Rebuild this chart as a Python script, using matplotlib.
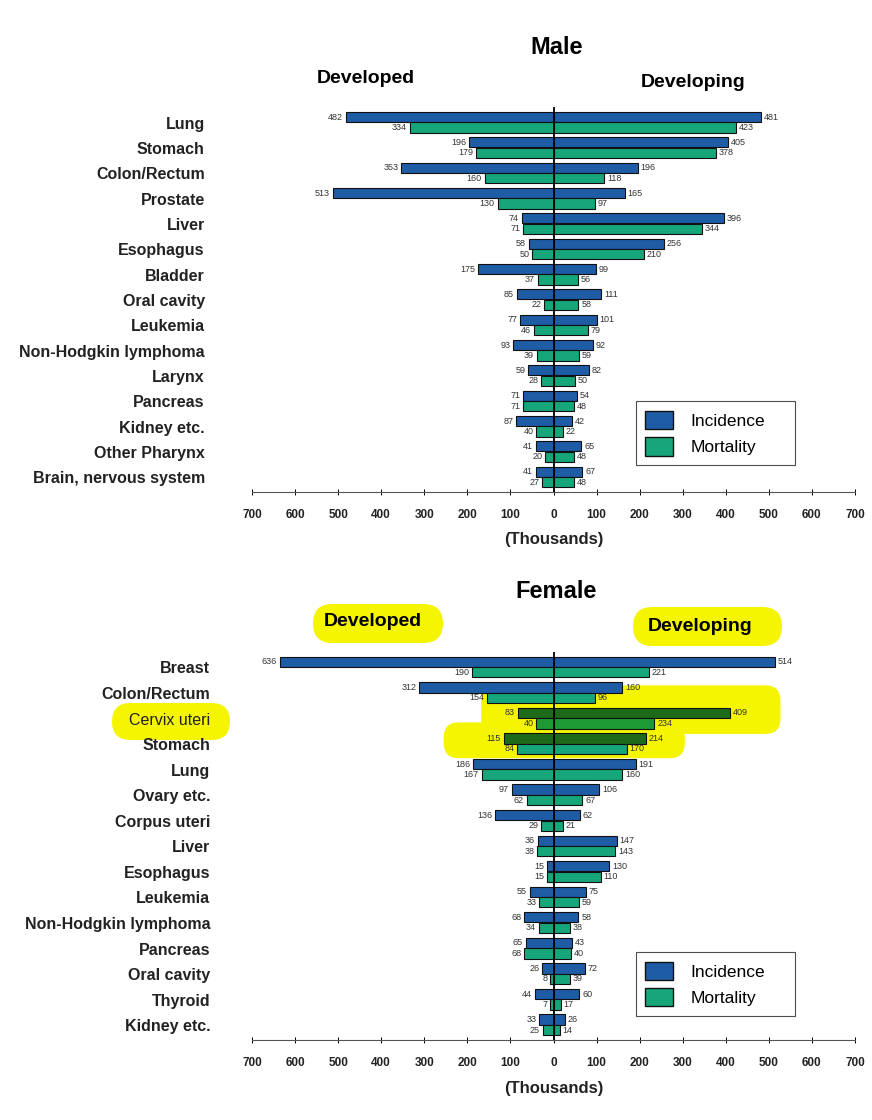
import matplotlib
matplotlib.use("Agg")
import matplotlib.pyplot as plt
from matplotlib.patches import Patch, FancyBboxPatch

plt.rcParams['font.family'] = ['Liberation Sans', 'DejaVu Sans']

# ---------------------------------------------------------------------------
# data (thousands of cases / deaths)
# ---------------------------------------------------------------------------
male_sites = ['Lung', 'Stomach', 'Colon/Rectum', 'Prostate', 'Liver', 'Esophagus',
              'Bladder', 'Oral cavity', 'Leukemia', 'Non-Hodgkin lymphoma', 'Larynx',
              'Pancreas', 'Kidney etc.', 'Other Pharynx', 'Brain, nervous system']
male_dev_inc = [482, 196, 353, 513, 74, 58, 175, 85, 77, 93, 59, 71, 87, 41, 41]
male_dev_mort = [334, 179, 160, 130, 71, 50, 37, 22, 46, 39, 28, 71, 40, 20, 27]
male_ing_inc = [481, 405, 196, 165, 396, 256, 99, 111, 101, 92, 82, 54, 42, 65, 67]
male_ing_mort = [423, 378, 118, 97, 344, 210, 56, 58, 79, 59, 50, 48, 22, 48, 48]

female_sites = ['Breast', 'Colon/Rectum', 'Cervix uteri', 'Stomach', 'Lung', 'Ovary etc.',
                'Corpus uteri', 'Liver', 'Esophagus', 'Leukemia', 'Non-Hodgkin lymphoma',
                'Pancreas', 'Oral cavity', 'Thyroid', 'Kidney etc.']
female_dev_inc = [636, 312, 83, 115, 186, 97, 136, 36, 15, 55, 68, 65, 26, 44, 33]
female_dev_mort = [190, 154, 40, 84, 167, 62, 29, 38, 15, 33, 34, 68, 8, 7, 25]
female_ing_inc = [514, 160, 409, 214, 191, 106, 62, 147, 130, 75, 58, 43, 72, 60, 26]
female_ing_mort = [221, 96, 234, 170, 160, 67, 21, 143, 110, 59, 38, 40, 39, 17, 14]

# sites marked with the yellow highlighter in the female panel
hl_inc = ['Cervix uteri', 'Stomach']
hl_mort = ['Cervix uteri']

tick_vals = list(range(-700, 701, 100))

C_INC = '#1f5ca6'
C_MORT = '#17a57a'
C_INC_HL = '#1d6a18'
C_MORT_HL = '#1e9a35'
YELLOW = '#f5f500'


def draw_panel(ax, sites, dev_inc, dev_mort, ing_inc, ing_mort,
               inc_colors, mort_colors, label_pad):
    n = len(sites)
    ys = list(range(n))
    y_inc = [y - 0.22 for y in ys]
    y_mort = [y + 0.19 for y in ys]
    h = 0.40
    kw = dict(edgecolor='#111111', linewidth=0.8, zorder=3)
    ax.barh(y_inc, [-v for v in dev_inc], height=h, color=inc_colors, **kw)
    ax.barh(y_inc, ing_inc, height=h, color=inc_colors, **kw)
    ax.barh(y_mort, [-v for v in dev_mort], height=h, color=mort_colors, **kw)
    ax.barh(y_mort, ing_mort, height=h, color=mort_colors, **kw)

    lab = dict(fontsize=6.5, color='#333333', va='center', textcoords='offset points', zorder=5)
    for i in range(n):
        ax.annotate(str(dev_inc[i]), (-dev_inc[i], y_inc[i]), xytext=(-2, 0), ha='right', **lab)
        ax.annotate(str(ing_inc[i]), (ing_inc[i], y_inc[i]), xytext=(2, 0), ha='left', **lab)
        ax.annotate(str(dev_mort[i]), (-dev_mort[i], y_mort[i]), xytext=(-2, 0), ha='right', **lab)
        ax.annotate(str(ing_mort[i]), (ing_mort[i], y_mort[i]), xytext=(2, 0), ha='left', **lab)

    ax.axvline(0, color='black', linewidth=1.3, zorder=4)
    ax.set_xlim(-700, 700)
    ax.set_ylim(n - 1 + 0.58, -0.62)
    ax.set_yticks(ys)
    ax.set_yticklabels(sites, fontsize=11.5, fontweight='bold', color='#222222')
    ax.tick_params(axis='y', length=0, pad=label_pad)
    ax.set_xticks(tick_vals)
    ax.set_xticklabels([str(abs(v)) for v in tick_vals], fontsize=8.5, fontweight='bold',
                       color='#222222')
    ax.tick_params(axis='x', direction='inout', length=5, width=0.7, pad=10)
    for s in ['top', 'left', 'right']:
        ax.spines[s].set_visible(False)
    ax.spines['bottom'].set_linewidth(0.8)
    ax.spines['bottom'].set_color('#555555')
    ax.set_xlabel('(Thousands)', fontsize=12, fontweight='bold', color='#222222', labelpad=8)

    handles = [Patch(facecolor=C_INC, edgecolor='#111111', label='Incidence'),
               Patch(facecolor=C_MORT, edgecolor='#111111', label='Mortality')]
    return handles


def add_legend(ax, handles, box):
    leg = ax.legend(handles=handles, loc='lower left', bbox_to_anchor=box,
                    mode='expand', fontsize=12.5, frameon=True, fancybox=False,
                    handlelength=1.6, handleheight=1.25, labelspacing=0.45, borderpad=0.55,
                    handletextpad=1.0, borderaxespad=0)
    leg.get_frame().set_edgecolor('#222222')
    leg.get_frame().set_linewidth(0.8)


fig = plt.figure(figsize=(8.72, 11.2), dpi=100)
AX_L = 0.289
AX_W = 0.6915

# ---------------- Male ----------------
ax1 = fig.add_axes([AX_L, 0.5607, AX_W, 0.3438])
h1 = draw_panel(ax1, male_sites, male_dev_inc, male_dev_mort, male_ing_inc, male_ing_mort,
                C_INC, C_MORT, 34)
add_legend(ax1, h1, (0.636, 0.07, 0.265, 0.195))

fig.text(0.638, 0.958, 'Male', ha='center', va='center', fontsize=17, fontweight='bold')
fig.text(0.419, 0.930, 'Developed', ha='center', va='center', fontsize=14, fontweight='bold')
fig.text(0.795, 0.926, 'Developing', ha='center', va='center', fontsize=14, fontweight='bold')

# ---------------- Female ----------------
f_inc_colors = [C_INC_HL if s in hl_inc else C_INC for s in female_sites]
f_mort_colors = [C_MORT_HL if s in hl_mort else C_MORT for s in female_sites]
ax2 = fig.add_axes([AX_L, 0.0714, AX_W, 0.3468])
ax2.set_zorder(1)
ax2.patch.set_alpha(0)
h2 = draw_panel(ax2, female_sites, female_dev_inc, female_dev_mort, female_ing_inc,
                female_ing_mort, f_inc_colors, f_mort_colors, 30)
add_legend(ax2, h2, (0.636, 0.062, 0.265, 0.19))

# highlighter strokes over the cervix / stomach bars (data units: ~2.31 x per px, 24 px per row)
for (x0, y0, w, hh) in [(-168, 0.7, 695, 1.9), (-255, 2.15, 560, 1.4)]:
    ax2.add_patch(FancyBboxPatch((x0, y0), w, hh, boxstyle='round,pad=0,rounding_size=34',
                                 mutation_aspect=0.018, facecolor=YELLOW, edgecolor='none',
                                 zorder=1))

for lbl in ax2.get_yticklabels():
    if lbl.get_text() == 'Cervix uteri':
        lbl.set_fontweight('normal')

# highlighter pills in figure coordinates, below every axes
pill_aspect = 872 / 1120
for (px0, py0, px1, py1) in [(112, 703, 230, 740), (313, 604, 443, 643), (633, 607, 782, 646)]:
    r = (py1 - py0) / 2 / 872
    fig.patches.append(FancyBboxPatch((px0 / 872, 1 - py1 / 1120), (px1 - px0) / 872,
                                      (py1 - py0) / 1120, transform=fig.transFigure,
                                      boxstyle='round,pad=0,rounding_size=%f' % r,
                                      mutation_aspect=pill_aspect, facecolor=YELLOW,
                                      edgecolor='none', zorder=-1))

fig.text(0.638, 0.472, 'Female', ha='center', va='center', fontsize=17, fontweight='bold')
fig.text(0.427, 0.445, 'Developed', ha='center', va='center', fontsize=14, fontweight='bold')
fig.text(0.803, 0.441, 'Developing', ha='center', va='center', fontsize=14, fontweight='bold')

fig.savefig('out.png', dpi=100, facecolor='white')
